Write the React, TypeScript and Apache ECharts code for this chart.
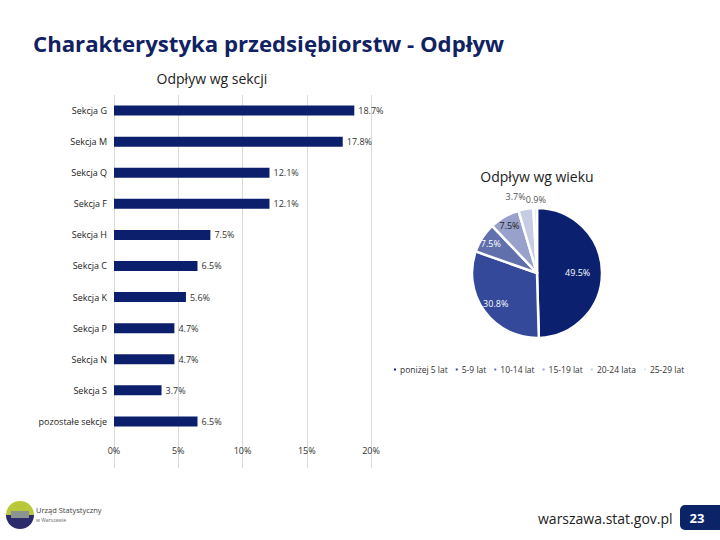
import React, { useEffect, useRef } from "react";
import * as echarts from "echarts";

const sectionCategories = [
  "Sekcja G",
  "Sekcja M",
  "Sekcja Q",
  "Sekcja F",
  "Sekcja H",
  "Sekcja C",
  "Sekcja K",
  "Sekcja P",
  "Sekcja N",
  "Sekcja S",
  "pozostałe sekcje",
];
const sectionValues = [18.7, 17.8, 12.1, 12.1, 7.5, 6.5, 5.6, 4.7, 4.7, 3.7, 6.5];

const ageCategories = ["poniżej 5 lat", "5-9 lat", "10-14 lat", "15-19 lat", "20-24 lata", "25-29 lat"];
const ageValues = [49.5, 30.8, 7.5, 7.5, 3.7, 0.9];
const ageColors = ["#0b2170", "#34499a", "#6070ad", "#97a1cb", "#c6cce3", "#e0e3ef"];
const ageLabelColors = ["#ffffff", "#ffffff", "#ffffff", "#1a1a1a", "#555555", "#555555"];
// radial position of each label, as a share of the radius
const ageLabelRadius = [0.58, 0.74, 0.8, 0.8, 1.15, 1.09];
const ageLabelNudgeX = [0, 0, 0, 0, -8, 1];

const xTicks = [0, 5, 10, 15, 20];

const NAVY = "#0c1f6c";
const FONT = "'Open Sans', 'Noto Sans', sans-serif";
const PIE_R = 65;

export default function App() {
  const ref = useRef<HTMLDivElement>(null);
  useEffect(() => {
    if (!ref.current) return;
    const chart = echarts.init(ref.current, undefined, { renderer: "svg" });
    const total = ageValues.reduce((a, b) => a + b, 0);
    let cum = 0;
    const pieData = ageCategories.map((name, i) => {
      const f = (cum + ageValues[i] / 2) / total;
      cum += ageValues[i];
      const th = f * 2 * Math.PI;
      const k = ageLabelRadius[i] - 0.5;
      const ox = k * PIE_R * Math.sin(th) + ageLabelNudgeX[i];
      const oy = -k * PIE_R * Math.cos(th);
      return {
        name,
        value: ageValues[i],
        itemStyle: { color: ageColors[i] },
        label: { position: "inside", color: ageLabelColors[i], offset: [ox, oy] },
      };
    });
    const option: any = {
      animation: false,
      backgroundColor: "#ffffff",
      textStyle: { fontFamily: FONT },
      grid: { left: 114, right: 349, top: 95, bottom: 72, containLabel: false },
      xAxis: {
        type: "value",
        min: xTicks[0],
        max: xTicks[xTicks.length - 1],
        interval: 5,
        axisLine: { show: false },
        axisTick: { show: false },
        splitLine: { lineStyle: { color: "#d9d9d9", width: 1 } },
        axisLabel: {
          margin: -22,
          fontSize: 9,
          color: "#333",
          formatter: (v: number) => v + "%",
        },
      },
      yAxis: {
        type: "category",
        inverse: true,
        data: [...sectionCategories, ""],
        axisLine: { show: false },
        axisTick: { show: false },
        axisLabel: { fontSize: 9, color: "#222", margin: 7 },
      },
      legend: {
        data: ageCategories,
        left: 387,
        top: 360,
        itemWidth: 4,
        itemHeight: 4,
        itemGap: 6,
        icon: "rect",
        textStyle: { fontSize: 8.5, color: "#333", padding: [0, 0, 0, -2] },
      },
      series: [
        {
          type: "bar",
          data: sectionValues,
          barWidth: 10,
          itemStyle: { color: NAVY },
          label: {
            show: true,
            position: "right",
            distance: 4,
            fontSize: 9,
            color: "#333",
            formatter: (p: any) => p.value.toFixed(1) + "%",
          },
        },
        {
          type: "pie",
          center: [537, 273],
          radius: PIE_R,
          startAngle: 90,
          clockwise: true,
          avoidLabelOverlap: false,
          labelLayout: { hideOverlap: false },
          itemStyle: { borderColor: "#ffffff", borderWidth: 2.5 },
          labelLine: { show: false },
          data: pieData,
          label: {
            fontSize: 9,
            formatter: (p: any) => p.value.toFixed(1) + "%",
          },
        },
      ],
      graphic: [
        {
          type: "text",
          left: 33,
          top: 32,
          style: {
            text: "Charakterystyka przedsiębiorstw - Odpływ",
            fontSize: 22.2,
            fontWeight: "bold",
            fill: "#102262",
            fontFamily: FONT,
          },
        },
        {
          type: "text",
          x: 212,
          y: 78,
          style: {
            text: "Odpływ wg sekcji",
            fontSize: 14,
            fill: "#222",
            align: "center",
            verticalAlign: "middle",
            fontFamily: FONT,
          },
        },
        {
          type: "text",
          x: 537,
          y: 176,
          style: {
            text: "Odpływ wg wieku",
            fontSize: 14,
            fill: "#222",
            align: "center",
            verticalAlign: "middle",
            fontFamily: FONT,
          },
        },
        {
          type: "sector",
          shape: { cx: 20, cy: 515, r0: 0, r: 14, startAngle: Math.PI, endAngle: 2 * Math.PI },
          style: { fill: "#b8c83a" },
        },
        {
          type: "sector",
          shape: { cx: 20, cy: 515, r0: 0, r: 14, startAngle: 0, endAngle: Math.PI },
          style: { fill: "#2c2b6b" },
        },
        {
          type: "rect",
          shape: { x: 11, y: 511, width: 18, height: 7 },
          style: { fill: "#8a9490" },
        },
        {
          type: "text",
          x: 36,
          y: 510,
          style: { text: "Urząd Statystyczny", fontSize: 7.5, fill: "#444", verticalAlign: "middle", fontFamily: FONT },
        },
        {
          type: "text",
          x: 36,
          y: 520,
          style: { text: "w Warszawie", fontSize: 5, fill: "#666", verticalAlign: "middle", fontFamily: FONT },
        },
        {
          type: "text",
          x: 538,
          y: 518,
          style: {
            text: "warszawa.stat.gov.pl",
            fontSize: 14,
            fill: "#222",
            verticalAlign: "middle",
            fontFamily: FONT,
          },
        },
        {
          type: "rect",
          shape: { x: 680, y: 505, width: 45, height: 25, r: 5 },
          style: { fill: "#0b2468" },
        },
        {
          type: "text",
          x: 697,
          y: 517.5,
          style: {
            text: "23",
            fontSize: 13,
            fontWeight: "bold",
            fill: "#ffffff",
            align: "center",
            verticalAlign: "middle",
            fontFamily: FONT,
          },
        },
      ],
    };
    chart.setOption(option);
    return () => chart.dispose();
  }, []);
  return (
    <div
      ref={ref}
      style={{ position: "fixed", left: 0, top: 0, width: 720, height: 540, background: "#fff" }}
    />
  );
}
